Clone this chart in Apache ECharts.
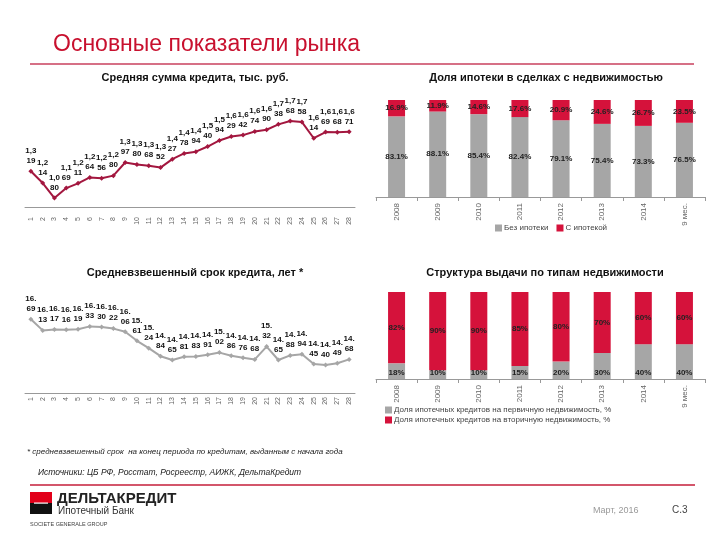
<!DOCTYPE html>
<html>
<head>
<meta charset="utf-8">
<script src="https://cdn.jsdelivr.net/npm/echarts@6/dist/echarts.min.js"></script>
<style>
html,body{margin:0;padding:0;background:#fff;}
#c{width:720px;height:540px;}
</style>
</head>
<body>
<div id="c"></div>
<script>
// ---- data ----
const periods = ['1','2','3','4','5','6','7','8','9','10','11','12','13','14','15','16','17','18','19','20','21','22','23','24','25','26','27','28'];
const avgLoanSum = [1319,1214,1080,1169,1211,1264,1256,1280,1397,1380,1368,1352,1427,1478,1494,1540,1594,1629,1642,1674,1690,1738,1768,1758,1614,1669,1668,1671];
const avgLoanTerm = [16.69,16.13,16.17,16.16,16.19,16.33,16.30,16.22,16.06,15.61,15.24,14.84,14.65,14.81,14.83,14.91,15.02,14.86,14.76,14.68,15.32,14.65,14.88,14.94,14.45,14.40,14.49,14.68];
const years = ['2008','2009','2010','2011','2012','2013','2014','9 мес.'];
const withoutMortgage = [83.1,88.1,85.4,82.4,79.1,75.4,73.3,76.5];
const withMortgage = [16.9,11.9,14.6,17.6,20.9,24.6,26.7,23.5];
const primaryShare = [18,10,10,15,20,30,40,40];
const secondaryShare = [82,90,90,85,80,70,60,60];
const nameWithout = 'Без ипотеки';
const nameWith = 'С ипотекой';
const namePrimary = 'Доля ипотечных кредитов на первичную недвижимость, %';
const nameSecondary = 'Доля ипотечных кредитов на вторичную недвижимость, %';

const RED = '#d5123b';
const GRAY = '#a6a6a6';
const LINE1 = '#a3173f';
const FONT = '"Liberation Sans", Arial, sans-serif';

const chart = echarts.init(document.getElementById('c'), null, {renderer:'canvas'});

function catAxis(idx, data, opts) {
  return Object.assign({
    type:'category', gridIndex:idx, data:data,
    axisLine:{lineStyle:{color:'#999', width:1}},
    axisTick:{show:true, lineStyle:{color:'#999'}, length:4},
    axisLabel:{rotate:90, fontSize:7, color:'#666', fontFamily:FONT, margin:6, interval:0}
  }, opts||{});
}
function valAxis(idx, min, max) {
  return {type:'value', gridIndex:idx, min:min, max:max, show:false, splitLine:{show:false}};
}
const barLabel = {show:true, position:'inside', fontSize:8, fontWeight:'bold', color:'#222', fontFamily:FONT, formatter:p=>p.value.toFixed(1)+'%'};

const option = {
  animation:false,
  backgroundColor:'#fff',
  textStyle:{fontFamily:FONT},
  title:[
    {text:'Основные показатели рынка', left:48, top:28, textStyle:{color:'#c8102e', fontSize:23, fontWeight:'normal', fontFamily:FONT}},
    {text:'Средняя сумма кредита, тыс. руб.', left:190, top:67, textAlign:'center', textStyle:{fontSize:11, fontWeight:'bold', color:'#111', fontFamily:FONT}},
    {text:'Доля ипотеки в сделках с недвижимостью', left:541, top:67, textAlign:'center', textStyle:{fontSize:11, fontWeight:'bold', color:'#111', fontFamily:FONT}},
    {text:'Средневзвешенный срок кредита, лет *', left:190, top:262, textAlign:'center', textStyle:{fontSize:11, fontWeight:'bold', color:'#111', fontFamily:FONT}},
    {text:'Структура выдачи по типам недвижимости', left:540, top:262, textAlign:'center', textStyle:{fontSize:11, fontWeight:'bold', color:'#111', fontFamily:FONT}}
  ],
  legend:[
    {data:[nameWithout, nameWith], left:490, top:219, itemWidth:7, itemHeight:7, itemGap:8, icon:'rect',
     textStyle:{fontSize:8, color:'#444', fontFamily:FONT, padding:[0,0,0,-3]}},
    {data:[namePrimary, nameSecondary], left:380, top:401, orient:'vertical', itemWidth:7, itemHeight:7, itemGap:2, icon:'rect',
     textStyle:{fontSize:8, color:'#444', fontFamily:FONT, padding:[0,0,0,-3]}}
  ],
  grid:[
    {left:25, width:330, top:95, height:112},
    {left:376, width:329, top:100, height:97},
    {left:25, width:330, top:293, height:100},
    {left:376, width:329, top:292, height:87}
  ],
  xAxis:[
    catAxis(0, periods, {axisTick:{show:false}, axisLabel:{rotate:90, fontSize:7, color:'#666', fontFamily:FONT, margin:10, interval:0}}),
    catAxis(1, years, {axisLabel:{rotate:90, fontSize:8, color:'#666', fontFamily:FONT, margin:6, interval:0}}),
    catAxis(2, periods, {axisTick:{show:false}, axisLabel:{rotate:90, fontSize:7, color:'#666', fontFamily:FONT, margin:4, interval:0}}),
    catAxis(3, years, {axisLabel:{rotate:90, fontSize:8, color:'#666', fontFamily:FONT, margin:6, interval:0}})
  ],
  yAxis:[
    valAxis(0, 1000, 2000),
    valAxis(1, 0, 100),
    valAxis(2, 13, 18),
    valAxis(3, 0, 100)
  ],
  series:[
    {type:'line', xAxisIndex:0, yAxisIndex:0, data:avgLoanSum, color:LINE1,
     lineStyle:{width:2, color:LINE1}, symbol:'diamond', symbolSize:5, itemStyle:{color:LINE1},
     label:{show:true, position:'top', distance:3, fontSize:8, fontWeight:'bold', color:'#111', lineHeight:10, fontFamily:FONT,
       formatter:p=>{const s=String(p.value); return s[0]+','+s[1]+'\n'+s.slice(2);}}},
    {type:'bar', name:nameWithout, xAxisIndex:1, yAxisIndex:1, stack:'a', data:withoutMortgage, barWidth:17, color:GRAY,
     itemStyle:{color:GRAY}, label:barLabel},
    {type:'bar', name:nameWith, xAxisIndex:1, yAxisIndex:1, stack:'a', data:withMortgage, barWidth:17, color:RED,
     itemStyle:{color:RED}, label:barLabel},
    {type:'line', xAxisIndex:2, yAxisIndex:2, data:avgLoanTerm, color:GRAY,
     lineStyle:{width:2, color:GRAY}, symbol:'diamond', symbolSize:5, itemStyle:{color:GRAY},
     label:{show:true, position:'top', distance:3, fontSize:8, fontWeight:'bold', color:'#111', lineHeight:10, fontFamily:FONT,
       formatter:p=>{const s=p.value.toFixed(2); return s.slice(0,3)+'\n'+s.slice(3);}}},
    {type:'bar', name:namePrimary, xAxisIndex:3, yAxisIndex:3, stack:'b', data:primaryShare, barWidth:17, color:GRAY,
     itemStyle:{color:GRAY},
     label:{show:true, position:'insideBottom', distance:2, fontSize:8, fontWeight:'bold', color:'#222', fontFamily:FONT, formatter:p=>p.value+'%'}},
    {type:'bar', name:nameSecondary, xAxisIndex:3, yAxisIndex:3, stack:'b', data:secondaryShare, barWidth:17, color:RED,
     itemStyle:{color:RED},
     label:{show:true, position:'inside', fontSize:8, fontWeight:'bold', color:'#222', fontFamily:FONT, formatter:p=>p.value+'%'}}
  ],
  graphic:[
    {type:'line', shape:{x1:30, y1:64, x2:694, y2:64}, style:{stroke:'#c9405e', lineWidth:1.5}},
    {type:'line', shape:{x1:30, y1:485, x2:695, y2:485}, style:{stroke:'#c41e3a', lineWidth:1.5}},
    {type:'text', left:27, top:448, style:{text:'* средневзвешенный срок  на конец периода по кредитам, выданным с начала года', fontSize:8, fontStyle:'italic', fill:'#222', fontFamily:FONT}},
    {type:'text', left:38, top:468, style:{text:'Источники: ЦБ РФ, Росстат, Росреестр, АИЖК, ДельтаКредит', fontSize:8.5, fontStyle:'italic', fill:'#222', fontFamily:FONT}},
    {type:'rect', shape:{x:30, y:492, width:22, height:11}, style:{fill:'#e2001a'}},
    {type:'rect', shape:{x:30, y:503, width:22, height:11}, style:{fill:'#111'}},
    {type:'rect', shape:{x:34, y:502.5, width:14, height:1.2}, style:{fill:'#fff'}},
    {type:'text', left:57, top:491, style:{text:'ДЕЛЬТАКРЕДИТ', fontSize:15, fontWeight:'bold', fill:'#222', fontFamily:FONT}},
    {type:'text', left:58, top:506, style:{text:'Ипотечный Банк', fontSize:10, fill:'#333', fontFamily:FONT}},
    {type:'text', left:30, top:521, style:{text:'SOCIETE GENERALE GROUP', fontSize:5.5, fill:'#444', fontFamily:FONT}},
    {type:'text', left:593, top:506, style:{text:'Март, 2016', fontSize:9, fill:'#999', fontFamily:FONT}},
    {type:'text', left:672, top:505, style:{text:'С.3', fontSize:10, fill:'#444', fontFamily:FONT}}
  ]
};
chart.setOption(option);
</script>
</body>
</html>
